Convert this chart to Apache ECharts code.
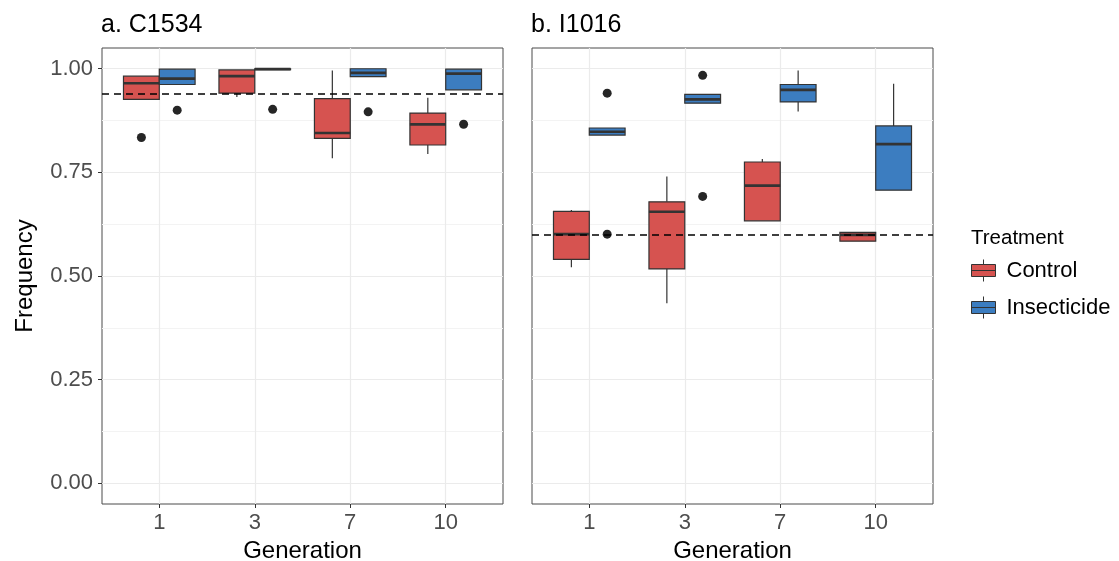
<!DOCTYPE html>
<html>
<head>
<meta charset="utf-8">
<script src="https://cdn.jsdelivr.net/npm/echarts@6/dist/echarts.min.js"></script>
<style>
  html, body { margin: 0; padding: 0; background: #fff; }
  #chart { width: 1119px; height: 561px; }
</style>
</head>
<body>
<div id="chart"></div>
<script>
// ---- data ----
const generations = ['1', '3', '7', '10'];
const panelTitles = ['a. C1534', 'b. I1016'];
const treatments = ['Control', 'Insecticide'];
const yTicks = [0, 0.25, 0.5, 0.75, 1];
const yMinorTicks = [0.125, 0.375, 0.625, 0.875];
const refLines = [0.94, 0.596];

// each row: [lower whisker, Q1, median, Q3, upper whisker] for generations 1, 3, 7, 10
const c1534Control = [
  [0.926, 0.926, 0.965, 0.982, 0.982],
  [0.932, 0.941, 0.982, 0.997, 0.997],
  [0.784, 0.832, 0.845, 0.928, 0.996],
  [0.794, 0.816, 0.866, 0.893, 0.930]
];
const c1534Insecticide = [
  [0.962, 0.962, 0.976, 0.999, 0.999],
  [0.998, 0.998, 0.999, 1.000, 1.000],
  [0.981, 0.981, 0.990, 1.000, 1.000],
  [0.949, 0.949, 0.988, 0.999, 0.999]
];
const i1016Control = [
  [0.521, 0.540, 0.601, 0.656, 0.659],
  [0.434, 0.517, 0.655, 0.679, 0.740],
  [0.633, 0.633, 0.718, 0.775, 0.782],
  [0.584, 0.584, 0.599, 0.605, 0.605]
];
const i1016Insecticide = [
  [0.840, 0.840, 0.848, 0.857, 0.857],
  [0.917, 0.917, 0.926, 0.938, 0.938],
  [0.897, 0.920, 0.949, 0.962, 0.996],
  [0.707, 0.707, 0.818, 0.862, 0.964]
];
// outliers: [generation index, value]
const c1534ControlOutliers = [[0, 0.834]];
const c1534InsecticideOutliers = [[0, 0.900], [1, 0.902], [2, 0.896], [3, 0.866]];
const i1016ControlOutliers = [];
const i1016InsecticideOutliers = [[0, 0.941], [0, 0.601], [1, 0.984], [1, 0.692]];

// ---- styling ----
const RED = '#D65350';
const BLUE = '#3C7DC0';
const DARK = '#333333';
const FONT = 'Liberation Sans, Arial, sans-serif';
const BOX_W = 0.375;      // ggplot dodge: each box takes half of 0.75
const DODGE = BOX_W / 2;

const chart = echarts.init(document.getElementById('chart'), null, { renderer: 'canvas' });

function boxRender(offset, color) {
  return function (params, api) {
    const x = api.value(0) + offset;
    const lo = api.coord([x, api.value(1)]);
    const q1 = api.coord([x, api.value(2)]);
    const md = api.coord([x, api.value(3)]);
    const q3 = api.coord([x, api.value(4)]);
    const hi = api.coord([x, api.value(5)]);
    const hw = api.size([BOX_W, 0])[0] / 2;
    return {
      type: 'group',
      children: [
        { type: 'line', shape: { x1: hi[0], y1: hi[1], x2: q3[0], y2: q3[1] },
          style: { stroke: DARK, lineWidth: 1.2 } },
        { type: 'line', shape: { x1: q1[0], y1: q1[1], x2: lo[0], y2: lo[1] },
          style: { stroke: DARK, lineWidth: 1.2 } },
        { type: 'rect', shape: { x: q3[0] - hw, y: q3[1], width: hw * 2, height: Math.max(q1[1] - q3[1], 0.5) },
          style: { fill: color, stroke: DARK, lineWidth: 1.2 } },
        { type: 'line', shape: { x1: md[0] - hw, y1: md[1], x2: md[0] + hw, y2: md[1] },
          style: { stroke: DARK, lineWidth: 2.7 } }
      ]
    };
  };
}

function toBoxData(rows) {
  return rows.map((r, i) => [i + 1].concat(r));
}
function toOutlierData(rows, offset) {
  return rows.map(r => [r[0] + 1 + offset, r[1]]);
}

const panels = [
  { control: c1534Control, insect: c1534Insecticide, cOut: c1534ControlOutliers, iOut: c1534InsecticideOutliers },
  { control: i1016Control, insect: i1016Insecticide, cOut: i1016ControlOutliers, iOut: i1016InsecticideOutliers }
];

const grids = [
  { left: 102, right: 1119 - 503, top: 48, bottom: 561 - 504 },
  { left: 532, right: 1119 - 933, top: 48, bottom: 561 - 504 }
];

const xAxes = [], yAxes = [], series = [];
grids.forEach((g, gi) => {
  g.show = true;
  g.borderColor = '#4a4a4a';
  g.borderWidth = 1;
  g.backgroundColor = '#fff';
  g.containLabel = false;
  g.outerBoundsMode = 'none';
  xAxes.push({
    type: 'value', gridIndex: gi, min: 0.4, max: 4.6,
    name: 'Generation', nameLocation: 'middle', nameGap: 35,
    nameTextStyle: { fontSize: 24, color: '#000', fontFamily: FONT },
    axisLine: { show: false, onZero: false },
    axisTick: { show: true, length: 4, customValues: [1, 2, 3, 4], lineStyle: { color: DARK, width: 1 } },
    axisLabel: { customValues: [1, 2, 3, 4], margin: 8, fontSize: 22, color: '#4D4D4D', fontFamily: FONT,
      formatter: v => generations[Math.round(v) - 1] || '' },
    splitLine: { show: true, lineStyle: { color: '#EBEBEB', width: 1.2 } }
  });
  yAxes.push({
    type: 'value', gridIndex: gi, min: -0.05, max: 1.05,
    name: gi === 0 ? 'Frequency' : '', nameLocation: 'middle', nameGap: 65,
    nameTextStyle: { fontSize: 24, color: '#000', fontFamily: FONT },
    axisLine: { show: false, onZero: false },
    axisTick: { show: gi === 0, length: 4, customValues: yTicks, lineStyle: { color: DARK, width: 1 } },
    axisLabel: { show: gi === 0, customValues: yTicks, margin: 9, fontSize: 22, color: '#4D4D4D', fontFamily: FONT,
      formatter: v => v.toFixed(2) },
    splitLine: { show: true, lineStyle: { color: '#EBEBEB', width: 1.2 } }
  });
  // minor grid lines
  yAxes.push({
    type: 'value', gridIndex: gi, min: -0.05, max: 1.05, position: 'left',
    axisLine: { show: false, onZero: false },
    axisTick: { show: false, customValues: yMinorTicks },
    axisLabel: { show: false, customValues: yMinorTicks },
    splitLine: { show: true, lineStyle: { color: '#F3F3F3', width: 1 } }
  });
  const p = panels[gi];
  const yIdx = gi * 2;
  series.push({
    type: 'custom', name: 'Control', xAxisIndex: gi, yAxisIndex: yIdx,
    renderItem: boxRender(-DODGE, RED), itemStyle: { color: RED },
    encode: { x: 0, y: [1, 2, 3, 4, 5] }, clip: false, z: 3,
    data: toBoxData(p.control)
  });
  series.push({
    type: 'custom', name: 'Insecticide', xAxisIndex: gi, yAxisIndex: yIdx,
    renderItem: boxRender(DODGE, BLUE), itemStyle: { color: BLUE },
    encode: { x: 0, y: [1, 2, 3, 4, 5] }, clip: false, z: 3,
    data: toBoxData(p.insect)
  });
  series.push({
    type: 'scatter', name: 'outliers' + gi, xAxisIndex: gi, yAxisIndex: yIdx,
    symbolSize: 9, itemStyle: { color: '#262626', opacity: 1 }, z: 4, silent: true,
    data: toOutlierData(p.cOut, -DODGE).concat(toOutlierData(p.iOut, DODGE)),
    markLine: {
      silent: true, symbol: 'none', z: 10,
      label: { show: false },
      lineStyle: { color: '#000', type: [7, 5], width: 1.6 },
      data: [{ yAxis: refLines[gi] }]
    }
  });
});

const iconPath = 'path://M12,0L12,5M0,5L24,5L24,17L0,17ZM0,11L24,11M12,17L12,22';

const option = {
  backgroundColor: '#fff',
  animation: false,
  textStyle: { fontFamily: FONT },
  title: [
    { text: panelTitles[0], left: 101, top: 13, padding: 0,
      textStyle: { fontSize: 25, fontWeight: 'normal', color: '#000', fontFamily: FONT } },
    { text: panelTitles[1], left: 531, top: 13, padding: 0,
      textStyle: { fontSize: 25, fontWeight: 'normal', color: '#000', fontFamily: FONT } },
    { text: 'Treatment', left: 971, top: 228, padding: 0,
      textStyle: { fontSize: 20.5, fontWeight: 'normal', color: '#000', fontFamily: FONT } }
  ],
  legend: {
    orient: 'vertical', left: 971, top: 259, padding: 0,
    itemWidth: 24, itemHeight: 22, itemGap: 14, selectedMode: false,
    textStyle: { fontSize: 22, color: '#000', fontFamily: FONT, padding: [0, 0, 0, 6] },
    data: [
      { name: treatments[0], icon: iconPath, itemStyle: { color: RED, borderColor: DARK, borderWidth: 1 } },
      { name: treatments[1], icon: iconPath, itemStyle: { color: BLUE, borderColor: DARK, borderWidth: 1 } }
    ]
  },
  grid: grids,
  xAxis: xAxes,
  yAxis: yAxes,
  series: series
};
chart.setOption(option);
</script>
</body>
</html>
